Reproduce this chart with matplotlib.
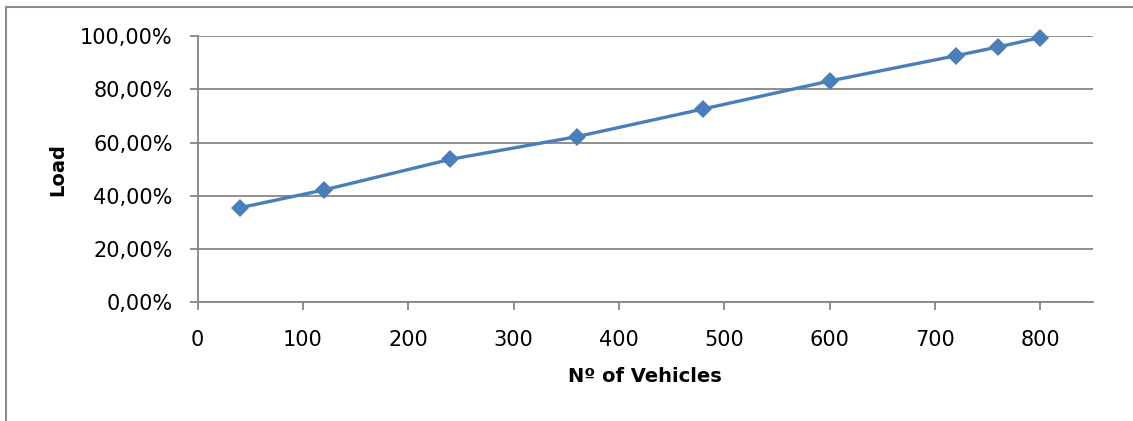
import matplotlib.pyplot as plt
from matplotlib.lines import Line2D
from matplotlib.ticker import FuncFormatter

vehicles = [40, 120, 240, 360, 480, 600, 720, 760, 800]
load = [0.355, 0.422, 0.537, 0.622, 0.726, 0.831, 0.926, 0.959, 0.994]

x_ticks = [0, 100, 200, 300, 400, 500, 600, 700, 800]
y_ticks = [0.0, 0.2, 0.4, 0.6, 0.8, 1.0]

plt.rcParams['font.family'] = ['DejaVu Sans']
grid_color = '#868686'

fig = plt.figure(figsize=(11.33, 4.21), dpi=100)
ax = fig.add_axes([0.1745, 0.282, 0.7902, 0.6325])

ax.plot(vehicles, load, color='#4a7ebb', linewidth=2.4, marker='D', markersize=9,
        markeredgewidth=0, zorder=3, clip_on=False)

ax.set_xlim(0, 850)
ax.set_ylim(0, 1.0)
ax.set_xticks(x_ticks)
ax.set_yticks(y_ticks)
ax.yaxis.set_major_formatter(FuncFormatter(lambda v, pos: ('%.2f%%' % (v * 100)).replace('.', ',')))

ax.grid(axis='y', color=grid_color, linewidth=1.3)
ax.set_axisbelow(True)
for side in ['top', 'right']:
    ax.spines[side].set_visible(False)
for side in ['left', 'bottom']:
    ax.spines[side].set_color(grid_color)
    ax.spines[side].set_linewidth(1.3)
ax.tick_params(axis='both', direction='out', length=6, width=1.3, color=grid_color,
               labelsize=15, labelcolor='black')
ax.tick_params(axis='x', pad=14)
ax.tick_params(axis='y', pad=12)

ax.set_xlabel('Nº of Vehicles', fontsize=14, fontweight='bold', labelpad=12)
ax.set_ylabel('Load', fontsize=14, fontweight='bold', labelpad=9)

# frame around the chart area (top and left edges)
fig.add_artist(Line2D([0.005, 1.0], [0.984, 0.984], color='#8c8c8c', linewidth=1.5))
fig.add_artist(Line2D([0.005, 0.005], [0.0, 0.984], color='#8c8c8c', linewidth=1.5))

fig.savefig('out.png', dpi=100)
